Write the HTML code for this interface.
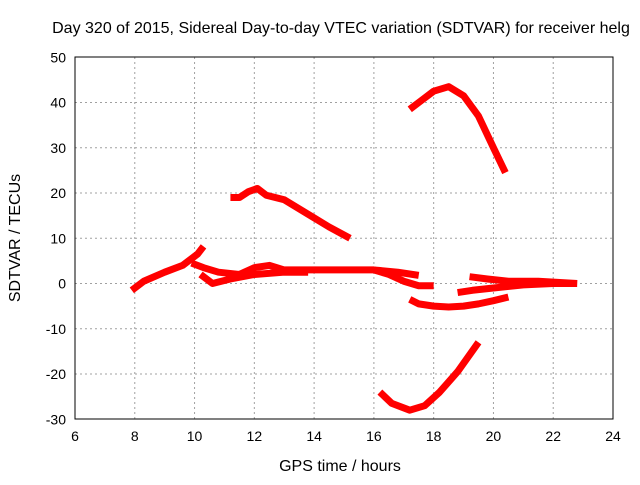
<!DOCTYPE html>
<html><head><meta charset="utf-8"><style>
body{margin:0;background:#fff;}
svg text{font-family:"Liberation Sans",sans-serif;font-size:14px;fill:#000;}
svg text.big{font-size:16px;}
</style></head><body>
<svg id="chart" width="640" height="480">
<text class="big" x="341" y="33" text-anchor="middle">Day 320 of 2015, Sidereal Day-to-day VTEC variation (SDTVAR) for receiver helg</text>
<g id="grid"></g><g id="ticks"></g><g id="series"></g>
<rect x="75" y="57" width="538" height="362" fill="none" stroke="#000"/>
<text class="big" x="340" y="471" text-anchor="middle">GPS time / hours</text>
<text class="big" transform="translate(20,238) rotate(-90)" text-anchor="middle">SDTVAR / TECUs</text>
</svg>
<script>
const xTicks=[6,8,10,12,14,16,18,20,22,24];
const yTicks=[-30,-20,-10,0,10,20,30,40,50];
const s1x=[7.9,8.3,9,9.6,10.1,10.3];
const s1y=[-1.5,0.5,2.5,4,6.5,8.2];
const s2x=[9.9,10.3,10.8,11.5,12,12.5,13,14,15,16,16.8,17.5];
const s2y=[4.5,3.5,2.5,2,3.5,4,3,3,3,3,2.5,1.8];
const s2bx=[10.2,10.6,11.2,12,13,13.8];
const s2by=[2,0,1,2,2.5,2.5];
const s2cx=[16,16.5,17,17.5,18];
const s2cy=[3,2,0.5,-0.5,-0.5];
const s3x=[17.2,17.5,18,18.5,19,19.5,20,20.5];
const s3y=[-3.5,-4.5,-5,-5.2,-5,-4.5,-3.8,-3];
const s4x=[18.8,19.3,20,21,22,22.8];
const s4y=[-2,-1.5,-1,-0.3,0,0];
const s4bx=[19.2,19.8,20.5,21.5,22.8];
const s4by=[1.5,1,0.5,0.5,0];
const s5x=[11.2,11.5,11.8,12.1,12.4,13,14,14.5,15.2];
const s5y=[19,19,20.3,21,19.5,18.5,14.5,12.5,10];
const s6x=[17.2,17.6,18,18.5,19,19.5,20,20.4];
const s6y=[38.5,40.5,42.5,43.5,41.5,37,30,24.5];
const s7x=[16.2,16.6,17.2,17.7,18.2,18.8,19.5];
const s7y=[-24,-26.5,-28,-27,-24,-19.5,-13];
const seriesX=[s1x,s2x,s2bx,s2cx,s3x,s4x,s4bx,s5x,s6x,s7x];
const seriesY=[s1y,s2y,s2by,s2cy,s3y,s4y,s4by,s5y,s6y,s7y];
const X=v=>75+(v-6)*(538/18);
const Y=v=>283.5-v*(362/80);
const NS="http://www.w3.org/2000/svg";
const grid=document.getElementById('grid'),ticks=document.getElementById('ticks'),ser=document.getElementById('series');
function mk(tag,attrs,parent){const e=document.createElementNS(NS,tag);for(const k in attrs)e.setAttribute(k,attrs[k]);parent.appendChild(e);return e;}
xTicks.forEach(t=>{
 if(t>6&&t<24){const l=mk('line',{x1:X(t),x2:X(t),y1:57,y2:419,stroke:'#a0a0a0','stroke-dasharray':'2,3'},grid);
 
 }
 const tx=mk('text',{x:X(t),y:441,'text-anchor':'middle'},ticks);tx.textContent=t;
 
 
});
yTicks.forEach(t=>{
 if(t>-30&&t<50){const l=mk('line',{x1:75,x2:613,y1:Y(t),y2:Y(t),stroke:'#a0a0a0','stroke-dasharray':'2,3'},grid);
 
 }
 const tx=mk('text',{x:66,y:Y(t)+5,'text-anchor':'end'},ticks);tx.textContent=t;
 
 
});
seriesX.forEach((xs,i)=>{
 const pts=xs.map((x,j)=>X(x)+','+Y(seriesY[i][j])).join(' ');
 const p=mk('polyline',{points:pts,fill:'none',stroke:'#ff0000','stroke-width':7,'stroke-linejoin':'round'},ser);
 
 
});
</script>
</body></html>
